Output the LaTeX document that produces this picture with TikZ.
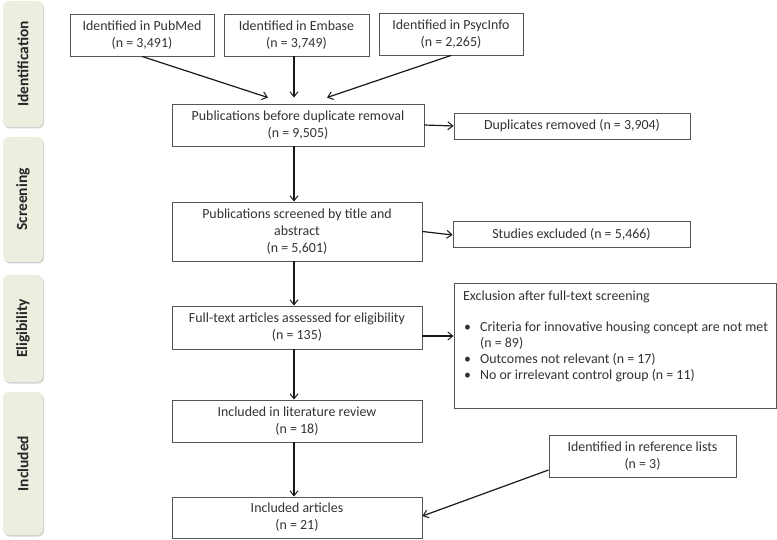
\documentclass[tikz,border=0pt]{standalone}
\usepackage{fontspec}
\setmainfont{Carlito}
\usetikzlibrary{arrows.meta,shadows}
\definecolor{tabfill}{HTML}{ECEEDF}
\definecolor{boxline}{HTML}{555555}
\definecolor{txt}{HTML}{333333}
\begin{document}
\begin{tikzpicture}[x=1pt,y=-1pt,
  box/.style={draw=boxline,line width=0.9pt,fill=white,inner sep=0pt,align=center,text=txt,font=\fontsize{13.9}{16.8}\selectfont},
  tab/.style={rounded corners=6pt,fill=tabfill,draw=none,drop shadow={shadow xshift=1pt,shadow yshift=-1.5pt,fill=black!30,opacity=0.6}},
  tablabel/.style={rotate=90,font=\fontsize{15.5}{18}\selectfont\bfseries,text=black!85},
  arr/.style={-{Straight Barb[length=5pt,width=8pt,line width=1pt]},line width=1.2pt,black!90}]
\useasboundingbox (0,0) rectangle (777,540);
% side tabs
\path[tab] (3,1) rectangle (43,127);
\node[tablabel] (tid) at (23,64) {Identification};
\path[tab] (3,137) rectangle (43,262);
\node[tablabel] (tsc) at (23,199.5) {Screening};
\path[tab] (3,275) rectangle (43,382);
\node[tablabel] (tel) at (23,328.5) {Eligibility};
\path[tab] (3,392) rectangle (43,535);
\node[tablabel] (tin) at (23,463.5) {Included};
% boxes
\node[box,minimum width=144pt,minimum height=42pt] (pub) at (142,35) {Identified in PubMed\\(n = 3,491)};
\node[box,minimum width=145pt,minimum height=42pt] (emb) at (296.5,35) {Identified in Embase\\(n = 3,749)};
\node[box,minimum width=144pt,minimum height=42pt] (psy) at (451,34) {Identified in PsycInfo\\(n = 2,265)};
\node[box,minimum width=252pt,minimum height=42pt] (dup) at (298,125) {Publications before duplicate removal\\(n = 9,505)};
\node[box,minimum width=236pt,minimum height=26pt] (drm) at (572,126) {Duplicates removed (n = 3,904)};
\node[box,minimum width=250pt,minimum height=59pt] (scr) at (297,231.5) {Publications screened by title and\\abstract\\(n = 5,601)};
\node[box,minimum width=237pt,minimum height=26pt] (sex) at (571.5,234) {Studies excluded (n = 5,466)};
\node[box,minimum width=250pt,minimum height=43pt] (ft) at (297,327.5) {Full-text articles assessed for eligibility\\(n = 135)};
\node[box,minimum width=322pt,minimum height=125pt] (exc) at (615,345.5) {};
\node[anchor=north west,inner sep=0pt,text=txt,font=\fontsize{13.9}{16}\selectfont,align=left] (exct) at (463,290.5)
 {Exclusion after full-text screening\\[15pt]
  \makebox[17pt][l]{\hspace{1pt}•}Criteria for innovative housing concept are not met\\
  \hspace*{17pt}(n = 89)\\
  \makebox[17pt][l]{\hspace{1pt}•}Outcomes not relevant (n = 17)\\
  \makebox[17pt][l]{\hspace{1pt}•}No or irrelevant control group (n = 11)};
\node[box,minimum width=250pt,minimum height=42pt] (lit) at (297,421) {Included in literature review\\(n = 18)};
\node[box,minimum width=187pt,minimum height=42pt] (ref) at (642.5,456) {Identified in reference lists\\(n = 3)};
\node[box,minimum width=250pt,minimum height=41pt] (art) at (297,517.5) {Included articles\\(n = 21)};
% arrows
\draw[arr] (pub.south) -- ([xshift=-30pt,yshift=6pt]dup.north);
\draw[arr] (emb.south -| 294,0) -- ([xshift=-4pt,yshift=6pt]dup.north);
\draw[arr] (psy.south) -- ([xshift=29pt,yshift=6pt]dup.north);
\draw[arr] (dup.east) -- (drm.west);
\draw[arr] ([xshift=-4pt]dup.south) -- ([xshift=-3pt]scr.north);
\draw[arr] (scr.east) -- ([yshift=-1pt]sex.west);
\draw[arr] ([xshift=-3pt]scr.south) -- ([xshift=-3pt]ft.north);
\draw[arr] ([yshift=-8.5pt]ft.east) -- ([yshift=9.5pt]exc.west);
\draw[arr] ([xshift=-3pt]ft.south) -- ([xshift=-3pt]lit.north);
\draw[arr] ([xshift=-3pt]lit.south) -- ([xshift=-3pt]art.north);
\draw[arr] ([yshift=-14pt]ref.west) -- ([yshift=1.5pt]art.east);
\end{tikzpicture}
\end{document}
